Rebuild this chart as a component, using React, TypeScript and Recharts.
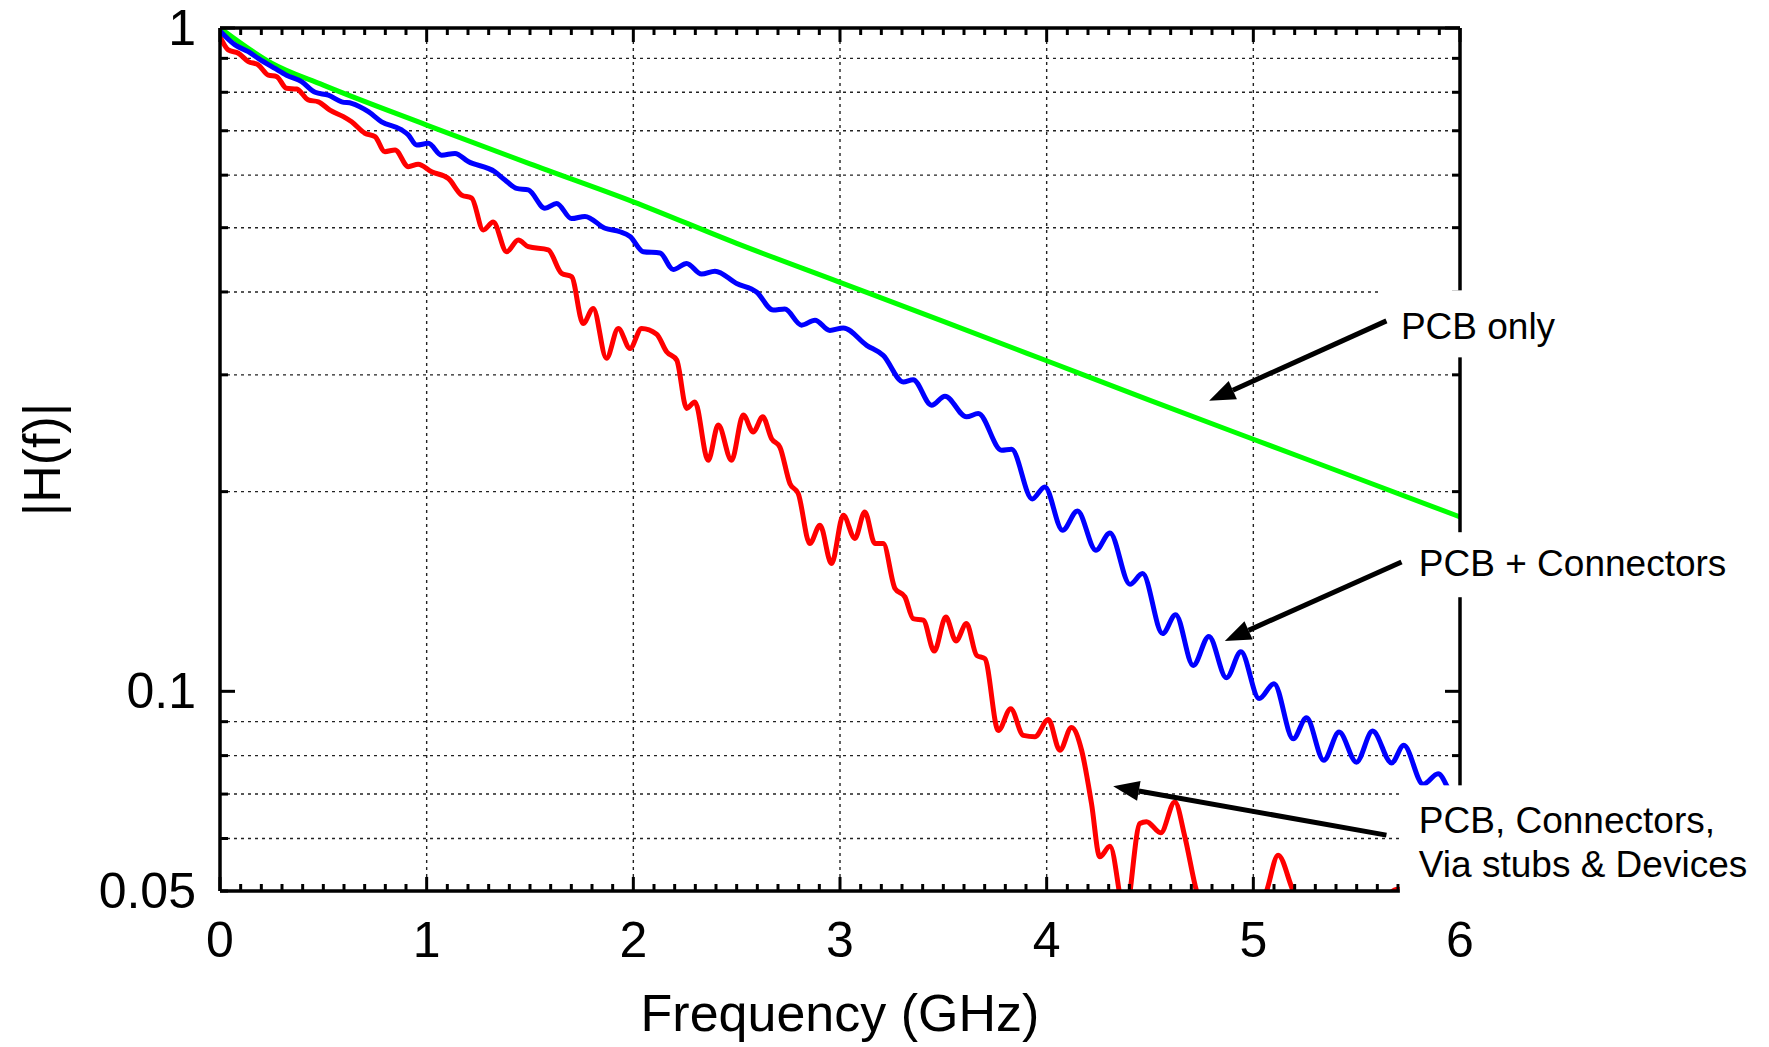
import React from 'react';
import { LineChart, Line, XAxis, YAxis, ReferenceLine, ReferenceDot, Label } from 'recharts';

const FONT = '"Liberation Sans", Arial, Helvetica, sans-serif';

// |H(f)|, frequency in GHz
const PCB_F = [0, 0.25, 0.5, 1.0, 1.5, 2.0, 2.5, 3.0, 3.5, 4.0, 4.5, 5.0, 5.5, 6.0];
const PCB_H = [1.0, 0.885, 0.82, 0.714, 0.624, 0.547, 0.4735, 0.4136, 0.3612, 0.315, 0.2746, 0.2399, 0.2097, 0.1832];

const CONN_F = [
  0, 0.073, 0.137, 0.185, 0.266, 0.322, 0.395, 0.46, 0.524, 0.589, 0.637, 0.718, 0.782, 0.879, 0.911, 0.952,
  1.008, 1.072, 1.137, 1.201, 1.33, 1.379, 1.435, 1.492, 1.572, 1.629, 1.701, 1.766, 1.863, 1.935, 1.984,
  2.048, 2.129, 2.193, 2.258, 2.33, 2.395, 2.5, 2.596, 2.677, 2.733, 2.814, 2.879, 2.951,
  3.016, 3.129, 3.209, 3.306, 3.354, 3.443, 3.508, 3.612, 3.669, 3.782, 3.83, 3.93, 3.991,
  4.077, 4.149, 4.238, 4.306, 4.403, 4.464, 4.561, 4.624, 4.709, 4.785, 4.87, 4.94,
  5.028, 5.1, 5.193, 5.257, 5.341, 5.415, 5.499, 5.577, 5.669, 5.728, 5.822, 5.894, 5.96, 6.0,
];
const CONN_H = [
  0.99, 0.943, 0.921, 0.9, 0.869, 0.849, 0.83, 0.8, 0.792, 0.774, 0.77, 0.748, 0.722, 0.702, 0.69, 0.666,
  0.67, 0.643, 0.647, 0.629, 0.607, 0.59, 0.573, 0.57, 0.535, 0.544, 0.516, 0.52, 0.499, 0.493, 0.485,
  0.46, 0.458, 0.4325, 0.4416, 0.4256, 0.43, 0.412, 0.4, 0.3756, 0.377, 0.3565, 0.3627, 0.35,
  0.353, 0.3324, 0.321, 0.2927, 0.295, 0.27, 0.2786, 0.2593, 0.2623, 0.2309, 0.2317, 0.195, 0.2033,
  0.1749, 0.187, 0.1632, 0.1733, 0.145, 0.1505, 0.1222, 0.1305, 0.1094, 0.121, 0.1048, 0.1147,
  0.0975, 0.1027, 0.0848, 0.0912, 0.0787, 0.0868, 0.0782, 0.0871, 0.078, 0.0829, 0.0724, 0.0751, 0.07, 0.0685,
];

const FULL_F = [
  0, 0.04, 0.089, 0.137, 0.185, 0.234, 0.274, 0.322, 0.371, 0.427, 0.476, 0.532, 0.597, 0.637, 0.701, 0.75,
  0.798, 0.847, 0.911, 0.959, 1.024, 1.105, 1.169, 1.218, 1.274, 1.322, 1.387, 1.443, 1.492, 1.588, 1.653,
  1.701, 1.757, 1.806, 1.87, 1.927, 1.984, 2.04, 2.113, 2.161, 2.21, 2.258, 2.298, 2.362, 2.411, 2.475,
  2.532, 2.58, 2.626, 2.669, 2.709, 2.758, 2.798, 2.854, 2.903, 2.959, 3.016, 3.072, 3.12, 3.169, 3.209,
  3.266, 3.314, 3.354, 3.403, 3.456, 3.512, 3.561, 3.612, 3.661, 3.701, 3.766, 3.826, 3.887, 3.943,
  4.008, 4.064, 4.12, 4.169, 4.217, 4.257, 4.306, 4.38, 4.451, 4.483, 4.552, 4.62, 4.669, 4.725, 4.9,
  5.064, 5.12, 5.193, 5.45, 5.7, 5.85, 6.0,
];
const FULL_H = [
  0.97, 0.927, 0.916, 0.89, 0.88, 0.849, 0.845, 0.811, 0.809, 0.779, 0.774, 0.752, 0.735, 0.722, 0.694, 0.686,
  0.651, 0.655, 0.618, 0.623, 0.607, 0.593, 0.56, 0.554, 0.496, 0.51, 0.46, 0.479, 0.468, 0.463, 0.4266,
  0.422, 0.3585, 0.3777, 0.3177, 0.3524, 0.3288, 0.3524, 0.3455, 0.325, 0.3157, 0.267, 0.273, 0.223, 0.252, 0.223,
  0.2609, 0.246, 0.2593, 0.2404, 0.2335, 0.2056, 0.1986, 0.167, 0.178, 0.1558, 0.1842, 0.17, 0.1864, 0.167, 0.167,
  0.1429, 0.1388, 0.1287, 0.128, 0.115, 0.1294, 0.1191, 0.1265, 0.1133, 0.112, 0.0873, 0.0941, 0.0858, 0.0854,
  0.0907, 0.0815, 0.0882, 0.0815, 0.0677, 0.0563, 0.0584, 0.046, 0.0632, 0.0636, 0.0612, 0.0681, 0.0603, 0.05, 0.04,
  0.05, 0.0566, 0.05, 0.041, 0.0503, 0.047, 0.044,
];

// axes
const X_TICKS = Array.from({ length: 61 }, (_, i) => i / 10);
const X_GRID = [1, 2, 3, 4, 5];
const Y_TICKS = [0.05, 0.06, 0.07, 0.08, 0.09, 0.1, 0.2, 0.3, 0.4, 0.5, 0.6, 0.7, 0.8, 0.9, 1];
const Y_LABELS = [0.05, 0.1, 1];
const Y_MAJOR = [0.1, 1];
const Y_GRID = [0.06, 0.07, 0.08, 0.09, 0.2, 0.3, 0.4, 0.5, 0.6, 0.7, 0.8, 0.9];

const pcbData = PCB_F.map((f, i) => ({ f, h: PCB_H[i] }));
const connData = CONN_F.map((f, i) => ({ f, h: CONN_H[i] }));
const fullData = FULL_F.map((f, i) => ({ f, h: FULL_H[i] }));

// annotations: text anchor, arrow tail -> head (all in data units), white box around text (px)
const NOTES = [
  { lines: ['PCB only'], at: [5.714, 0.355], tail: [5.644, 0.3618], head: [4.786, 0.2741], box: [-21, -36, 195, 67] },
  { lines: ['PCB + Connectors'], at: [5.801, 0.156], tail: [5.717, 0.1567], head: [4.862, 0.1191], box: [-15, -31, 336, 65] },
  {
    lines: ['PCB, Connectors,', 'Via stubs & Devices'],
    at: [5.801, 0.0639],
    tail: [5.644, 0.0607],
    head: [4.322, 0.0719],
    box: [-19, -35, 369, 115],
  },
];

const isWhole = (v: number) => Math.abs(v - Math.round(v)) < 1e-6;

function BottomTick({ x, y, payload }: any) {
  const major = isWhole(payload.value);
  return (
    <g>
      <line x1={x} y1={y} x2={x} y2={y - (major ? 14 : 7)} stroke="#000" strokeWidth={3} />
      {major && (
        <text x={x} y={y + 49} textAnchor="middle" dominantBaseline="central" fontSize={50} fontFamily={FONT} fill="#000">
          {Math.round(payload.value)}
        </text>
      )}
    </g>
  );
}

function TopTick({ x, y, payload }: any) {
  const major = isWhole(payload.value);
  return <line x1={x} y1={y} x2={x} y2={y + (major ? 14 : 7)} stroke="#000" strokeWidth={3} />;
}

function LeftTick({ x, y, payload }: any) {
  const v = payload.value;
  const major = Y_MAJOR.includes(v);
  return (
    <g>
      <line x1={x} y1={y} x2={x + (major ? 15 : 8)} y2={y} stroke="#000" strokeWidth={3} />
      {Y_LABELS.includes(v) && (
        <text x={x - 24} y={y} textAnchor="end" dominantBaseline="central" fontSize={50} fontFamily={FONT} fill="#000">
          {String(v)}
        </text>
      )}
    </g>
  );
}

function RightTick({ x, y, payload }: any) {
  const major = Y_MAJOR.includes(payload.value);
  return <line x1={x} y1={y} x2={x - (major ? 15 : 8)} y2={y} stroke="#000" strokeWidth={3} />;
}

function Arrow({ x1, y1, x2, y2 }: any) {
  const a = Math.atan2(y2 - y1, x2 - x1);
  const len = 26;
  const half = 10;
  const bx = x2 - len * Math.cos(a);
  const by = y2 - len * Math.sin(a);
  const px = -Math.sin(a) * half;
  const py = Math.cos(a) * half;
  return (
    <g>
      <line x1={x1} y1={y1} x2={bx} y2={by} stroke="#000" strokeWidth={5} />
      <polygon points={`${x2},${y2} ${bx + px},${by + py} ${bx - px},${by - py}`} fill="#000" />
    </g>
  );
}

const noteShape = (lines: string[], box: number[]) => ({ cx, cy }: any) => (
  <g>
    <rect x={cx + box[0]} y={cy + box[1]} width={box[2]} height={box[3]} fill="#fff" />
    <text x={cx} y={cy} dominantBaseline="central" fontSize={37} fontFamily={FONT} fill="#000">
      {lines.map((t, i) => (
        <tspan key={i} x={cx} dy={i === 0 ? 0 : 44}>
          {t}
        </tspan>
      ))}
    </text>
  </g>
);

const axisLine = { stroke: '#000', strokeWidth: 3.5 };

export default function App() {
  return (
    <div style={{ position: 'absolute', left: 0, top: 0, width: 1769, height: 1047, background: '#fff' }}>
      <LineChart width={1769} height={1047} margin={{ top: 27, right: 308, bottom: 155, left: 219 }}>
        <XAxis
          dataKey="f"
          type="number"
          domain={[0, 6]}
          ticks={X_TICKS}
          interval={0}
          allowDataOverflow
          height={1}
          tickSize={0}
          tickMargin={0}
          tickLine={false}
          axisLine={axisLine}
          tick={BottomTick}
        >
          <Label value="Frequency (GHz)" position="bottom" offset={102} fontSize={52} fontFamily={FONT} fill="#000" />
        </XAxis>
        <XAxis
          xAxisId="top"
          orientation="top"
          dataKey="f"
          type="number"
          domain={[0, 6]}
          ticks={X_TICKS}
          interval={0}
          allowDataOverflow
          height={1}
          tickSize={0}
          tickMargin={0}
          tickLine={false}
          axisLine={axisLine}
          tick={TopTick}
        />
        <YAxis
          scale="log"
          type="number"
          domain={[0.05, 1]}
          ticks={Y_TICKS}
          interval={0}
          allowDataOverflow
          width={1}
          tickSize={0}
          tickMargin={0}
          tickLine={false}
          axisLine={axisLine}
          tick={LeftTick}
        >
          <Label
            value="|H(f)|"
            angle={-90}
            position="left"
            offset={177}
            fontSize={52}
            fontFamily={FONT}
            fill="#000"
            style={{ textAnchor: 'middle' }}
          />
        </YAxis>
        <YAxis
          yAxisId="right"
          orientation="right"
          scale="log"
          type="number"
          domain={[0.05, 1]}
          ticks={Y_TICKS}
          interval={0}
          allowDataOverflow
          width={1}
          tickSize={0}
          tickMargin={0}
          tickLine={false}
          axisLine={axisLine}
          tick={RightTick}
        />

        {Y_GRID.map((v) => (
          <ReferenceLine key={`gy${v}`} y={v} stroke="#222" strokeWidth={1.4} strokeDasharray="3 4" />
        ))}
        {X_GRID.map((v) => (
          <ReferenceLine key={`gx${v}`} x={v} stroke="#222" strokeWidth={1.4} strokeDasharray="3 4" />
        ))}

        <Line data={fullData} dataKey="h" type="monotone" stroke="#ff0000" strokeWidth={5} dot={false} activeDot={false} isAnimationActive={false} />
        <Line data={pcbData} dataKey="h" type="monotone" stroke="#00ff00" strokeWidth={5} dot={false} activeDot={false} isAnimationActive={false} />
        <Line data={connData} dataKey="h" type="monotone" stroke="#0000ff" strokeWidth={5} dot={false} activeDot={false} isAnimationActive={false} />

        {NOTES.map((n, i) => (
          <ReferenceDot
            key={`n${i}`}
            x={n.at[0]}
            y={n.at[1]}
            ifOverflow="visible"
            zIndex={3000}
            shape={noteShape(n.lines, n.box)}
          />
        ))}
        {NOTES.map((n, i) => (
          <ReferenceLine
            key={`a${i}`}
            segment={[
              { x: n.tail[0], y: n.tail[1] },
              { x: n.head[0], y: n.head[1] },
            ]}
            ifOverflow="visible"
            zIndex={3100}
            shape={Arrow}
          />
        ))}
      </LineChart>
    </div>
  );
}
